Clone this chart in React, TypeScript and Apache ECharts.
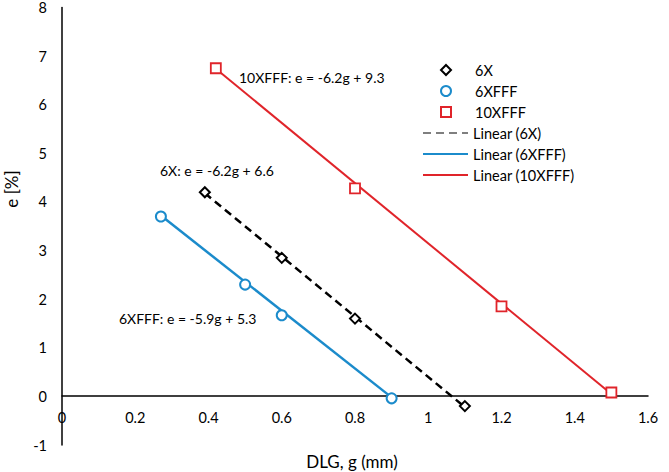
import React, { useEffect, useRef } from "react";
import * as echarts from "echarts";

// Measured data (DLG g in mm, e in %)
const g6X = [0.39, 0.6, 0.8, 1.1];
const e6X = [4.2, 2.85, 1.6, -0.2];
const g6XFFF = [0.27, 0.5, 0.6, 0.9];
const e6XFFF = [3.7, 2.3, 1.67, -0.04];
const g10XFFF = [0.42, 0.8, 1.2, 1.5];
const e10XFFF = [6.75, 4.28, 1.85, 0.08];

// Linear trend line end points
const fit6X = [[0.39, 4.18], [1.1, -0.22]];
const fit6XFFF = [[0.27, 3.72], [0.9, -0.02]];
const fit10XFFF = [[0.42, 6.74], [1.5, 0.05]];

const seriesNames = ["6X", "6XFFF", "10XFFF", "Linear (6X)", "Linear (6XFFF)", "Linear (10XFFF)"];
const equations = ["10XFFF: e = -6.2g + 9.3", "6X: e = -6.2g + 6.6", "6XFFF: e = -5.9g + 5.3"];
const xTitle = "DLG, g (mm)";
const yTitle = "e [%]";

const BLUE = "#1b8bcb";
const RED = "#e0242a";
const FONT = "Lato";
const DASH_ICON = "path://M0,0h8v1h-8z M13,0h8v1h-8z M26,0h8v1h-8z M39,0h6v1h-6z";

const pair = (xs: number[], ys: number[]) => xs.map((x, i) => [x, ys[i]]);

export default function App() {
  const ref = useRef<HTMLDivElement>(null);
  useEffect(() => {
    if (!ref.current) return;
    const chart = echarts.init(ref.current, null, { renderer: "svg" });
    const txt = { fontFamily: FONT, fontSize: 14.5, color: "#000" };
    const eqFont = `14px ${FONT}`;
    chart.setOption({
      animation: false,
      backgroundColor: "#fff",
      grid: { left: 62, right: 21, top: 4, bottom: 27 },
      xAxis: {
        type: "value",
        min: 0,
        max: 1.6,
        interval: 0.2,
        offset: -49,
        axisLine: { onZero: false, lineStyle: { color: "#000", width: 1.5 } },
        axisTick: { show: false },
        splitLine: { show: false },
        axisLabel: { ...txt, margin: 14 },
      },
      yAxis: {
        type: "value",
        min: -1,
        max: 8,
        interval: 1,
        axisLine: { show: true, onZero: false, lineStyle: { color: "#000", width: 1.5 } },
        axisTick: { show: false },
        splitLine: { show: false },
        axisLabel: { ...txt, margin: 15 },
      },
      legend: [
        {
          orient: "vertical",
          left: 440,
          top: 62.5,
          padding: 0,
          itemWidth: 10,
          itemHeight: 10,
          itemGap: 6,
          textStyle: { ...txt, lineHeight: 15, padding: [0, 0, 0, 19] },
          data: [
            { name: seriesNames[0], icon: "diamond" },
            { name: seriesNames[1], icon: "circle" },
            { name: seriesNames[2], icon: "rect" },
          ],
        },
        {
          orient: "vertical",
          left: 423,
          top: 125.5,
          padding: 0,
          itemWidth: 45,
          itemHeight: 2.2,
          itemGap: 6,
          textStyle: { ...txt, lineHeight: 15 },
          data: [
            { name: seriesNames[3], icon: DASH_ICON, itemStyle: { color: "#000", borderWidth: 0 } },
            { name: seriesNames[4], icon: "rect", itemStyle: { color: BLUE, borderWidth: 0 } },
            { name: seriesNames[5], icon: "rect", itemStyle: { color: RED, borderWidth: 0 } },
          ],
        },
      ],
      series: [
        {
          name: seriesNames[0],
          type: "scatter",
          z: 3,
          symbol: "diamond",
          symbolSize: 10,
          itemStyle: { color: "#fff", borderColor: "#000", borderWidth: 2, opacity: 1 },
          data: pair(g6X, e6X),
        },
        {
          name: seriesNames[1],
          type: "scatter",
          z: 3,
          symbol: "circle",
          symbolSize: 10,
          itemStyle: { color: "#fff", borderColor: BLUE, borderWidth: 2, opacity: 1 },
          data: pair(g6XFFF, e6XFFF),
        },
        {
          name: seriesNames[2],
          type: "scatter",
          z: 3,
          symbol: "rect",
          symbolSize: 10,
          itemStyle: { color: "#fff", borderColor: RED, borderWidth: 1.8, opacity: 1 },
          data: pair(g10XFFF, e10XFFF),
        },
        {
          name: seriesNames[3],
          type: "line",
          z: 1,
          symbol: "none",
          lineStyle: { color: "#000", width: 2.5, type: [8, 5] },
          itemStyle: { color: "#000" },
          data: fit6X,
        },
        {
          name: seriesNames[4],
          type: "line",
          z: 1,
          symbol: "none",
          lineStyle: { color: BLUE, width: 2.5 },
          itemStyle: { color: BLUE },
          data: fit6XFFF,
        },
        {
          name: seriesNames[5],
          type: "line",
          z: 1,
          symbol: "none",
          lineStyle: { color: RED, width: 2 },
          itemStyle: { color: RED },
          data: fit10XFFF,
        },
      ],
      graphic: [
        { type: "text", x: 239, y: 77, style: { text: equations[0], font: eqFont, fill: "#000", verticalAlign: "middle", align: "left" } },
        { type: "text", x: 160, y: 170, style: { text: equations[1], font: eqFont, fill: "#000", verticalAlign: "middle", align: "left" } },
        { type: "text", x: 119, y: 318, style: { text: equations[2], font: eqFont, fill: "#000", verticalAlign: "middle", align: "left" } },
        { type: "text", x: 352, y: 461, style: { text: xTitle, font: `17px ${FONT}`, fill: "#000", verticalAlign: "middle", align: "center" } },
        { type: "text", x: 11, y: 189, rotation: Math.PI / 2, style: { text: yTitle, font: `17px ${FONT}`, fill: "#000", verticalAlign: "middle", align: "center" } },
      ],
    });
    return () => chart.dispose();
  }, []);
  return (
    <div
      ref={ref}
      style={{ position: "fixed", left: 0, top: 0, width: 669, height: 472, background: "#fff" }}
    />
  );
}
